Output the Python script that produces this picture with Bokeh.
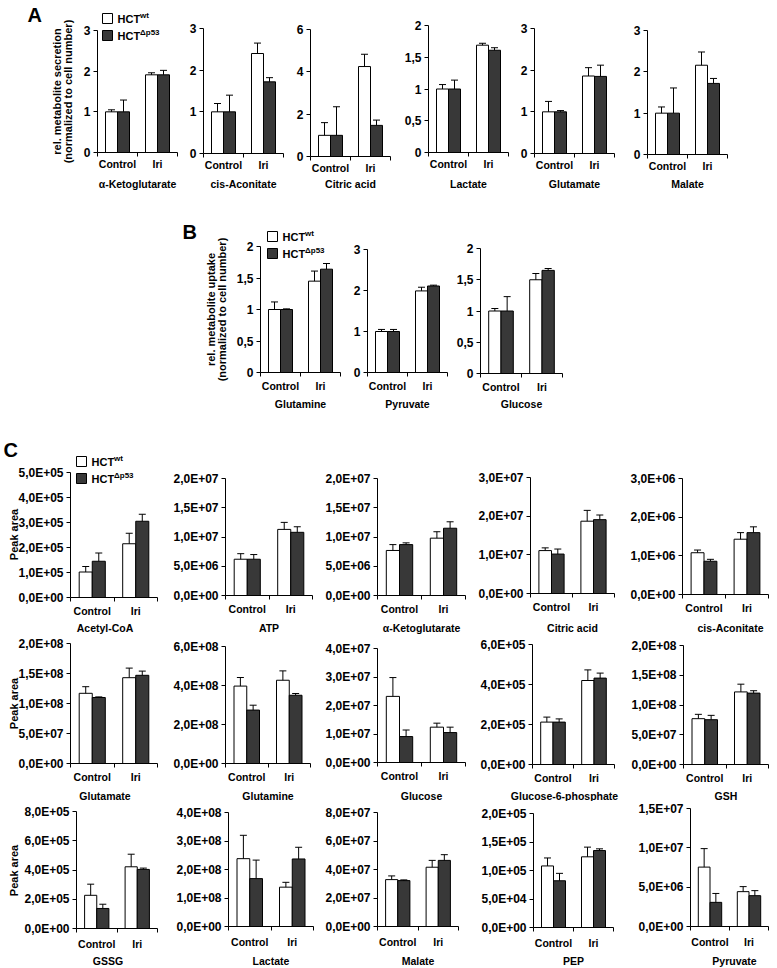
import numpy as np
from bokeh.plotting import figure
from bokeh.models import Range1d, FixedTicker, Whisker, TeeHead, ColumnDataSource, Label
from bokeh.layouts import row, column
from bokeh.embed import file_html
from bokeh.resources import INLINE

# ---------------- data ----------------
categories = ["Control", "Iri"]
series = ["wt", "Δp53"]

# Panel A: relative metabolite secretion
a_names = ["α-Ketoglutarate", "cis-Aconitate", "Citric acid", "Lactate", "Glutamate", "Malate"]
a_wt = [[1.00, 1.91], [1.00, 2.40], [1.00, 4.25], [1.00, 1.69], [1.00, 1.86], [1.00, 2.16]]
a_wt_err = [[0.05, 0.05], [0.20, 0.25], [0.60, 0.58], [0.07, 0.03], [0.25, 0.20], [0.15, 0.32]]
a_dl = [[1.00, 1.91], [1.00, 1.72], [1.00, 1.47], [1.00, 1.61], [1.00, 1.85], [1.00, 1.72]]
a_dl_err = [[0.29, 0.11], [0.40, 0.10], [1.35, 0.25], [0.14, 0.04], [0.03, 0.27], [0.61, 0.12]]
a_ticks = [[0, 1, 2, 3], [0, 1, 2, 3], [0, 2, 4, 6], [0, 0.5, 1, 1.5, 2], [0, 1, 2, 3], [0, 1, 2, 3]]
a_tick_labels = [["0", "1", "2", "3"], ["0", "1", "2", "3"], ["0", "2", "4", "6"],
                 ["0", "0,5", "1", "1,5", "2"], ["0", "1", "2", "3"], ["0", "1", "2", "3"]]
a_ylabel = ["rel. metabolite secretion", "(normalized to cell number)"]

# Panel B: relative metabolite uptake
b_names = ["Glutamine", "Pyruvate", "Glucose"]
b_wt = [[1.00, 1.45], [1.00, 1.99], [1.00, 1.50]]
b_wt_err = [[0.12, 0.16], [0.05, 0.09], [0.04, 0.10]]
b_dl = [[1.00, 1.64], [1.00, 2.11], [1.00, 1.65]]
b_dl_err = [[0.01, 0.09], [0.05, 0.02], [0.23, 0.03]]
b_ticks = [[0, 0.5, 1, 1.5, 2], [0, 1, 2, 3], [0, 0.5, 1, 1.5, 2]]
b_tick_labels = [["0", "0,5", "1", "1,5", "2"], ["0", "1", "2", "3"], ["0", "0,5", "1", "1,5", "2"]]
b_ylabel = ["rel. metabolite uptake", "(normalized to cell number)"]

# Panel C: peak areas
c_names = ["Acetyl-CoA", "ATP", "α-Ketoglutarate", "Citric acid", "cis-Aconitate",
           "Glutamate", "Glutamine", "Glucose", "Glucose-6-phosphate", "GSH",
           "GSSG", "Lactate", "Malate", "PEP", "Pyruvate"]
c_wt = [[1.02e5, 2.15e5], [6.2e6, 11.3e6], [7.7e6, 9.8e6], [1.11e7, 1.87e7], [1.08e6, 1.43e6],
        [1.17e8, 1.43e8], [3.97e8, 4.27e8], [2.32e7, 1.24e7], [2.12e5, 4.20e5], [7.7e7, 1.22e8],
        [2.27e5, 4.22e5], [2.38e8, 1.38e8], [3.29e7, 4.16e7], [1.08e5, 1.24e5], [7.55e6, 4.43e6]]
c_wt_err = [[0.22e5, 0.42e5], [0.95e6, 1.2e6], [1.0e6, 1.1e6], [0.07e7, 0.28e7], [0.07e6, 0.17e6],
            [0.11e8, 0.16e8], [0.44e8, 0.48e8], [0.66e7, 0.14e7], [0.25e5, 0.53e5], [0.73e7, 1.3e7],
            [0.76e5, 0.86e5], [0.82e8, 0.17e8], [0.26e7, 0.48e7], [0.14e5, 0.17e5], [2.35e6, 0.64e6]]
c_dl = [[1.45e5, 3.05e5], [6.2e6, 10.8e6], [8.7e6, 11.5e6], [1.02e7, 1.91e7], [0.86e6, 1.60e6],
        [1.10e8, 1.47e8], [2.74e8, 3.50e8], [0.91e7, 1.05e7], [2.12e5, 4.32e5], [7.53e7, 1.20e8],
        [1.37e5, 4.04e5], [1.68e8, 2.37e8], [3.22e7, 4.64e7], [0.82e5, 1.35e5], [3.07e6, 3.92e6]]
c_dl_err = [[0.33e5, 0.28e5], [0.8e6, 0.95e6], [0.3e6, 1.1e6], [0.13e7, 0.12e7], [0.05e6, 0.15e6],
            [0.01e8, 0.07e8], [0.25e8, 0.09e8], [0.23e7, 0.19e7], [0.16e5, 0.25e5], [0.73e7, 0.4e7],
            [0.29e5, 0.09e5], [0.65e8, 0.41e8], [0.05e7, 0.40e7], [0.13e5, 0.03e5], [1.13e6, 0.64e6]]
c_ticks = [[0, 1e5, 2e5, 3e5, 4e5, 5e5], [0, 5e6, 1e7, 1.5e7, 2e7], [0, 5e6, 1e7, 1.5e7, 2e7],
           [0, 1e7, 2e7, 3e7], [0, 1e6, 2e6, 3e6],
           [0, 5e7, 1e8, 1.5e8, 2e8], [0, 2e8, 4e8, 6e8], [0, 1e7, 2e7, 3e7, 4e7],
           [0, 2e5, 4e5, 6e5], [0, 5e7, 1e8, 1.5e8, 2e8],
           [0, 2e5, 4e5, 6e5, 8e5], [0, 1e8, 2e8, 3e8, 4e8], [0, 2e7, 4e7, 6e7, 8e7],
           [0, 5e4, 1e5, 1.5e5, 2e5], [0, 5e6, 1e7, 1.5e7]]
c_tick_labels = [["0,0E+00", "1,0E+05", "2,0E+05", "3,0E+05", "4,0E+05", "5,0E+05"],
                 ["0,0E+00", "5,0E+06", "1,0E+07", "1,5E+07", "2,0E+07"],
                 ["0,0E+00", "5,0E+06", "1,0E+07", "1,5E+07", "2,0E+07"],
                 ["0,0E+00", "1,0E+07", "2,0E+07", "3,0E+07"],
                 ["0,0E+00", "1,0E+06", "2,0E+06", "3,0E+06"],
                 ["0,0E+00", "5,0E+07", "1,0E+08", "1,5E+08", "2,0E+08"],
                 ["0,0E+00", "2,0E+08", "4,0E+08", "6,0E+08"],
                 ["0,0E+00", "1,0E+07", "2,0E+07", "3,0E+07", "4,0E+07"],
                 ["0,0E+00", "2,0E+05", "4,0E+05", "6,0E+05"],
                 ["0,0E+00", "5,0E+07", "1,0E+08", "1,5E+08", "2,0E+08"],
                 ["0,0E+00", "2,0E+05", "4,0E+05", "6,0E+05", "8,0E+05"],
                 ["0,0E+00", "1,0E+08", "2,0E+08", "3,0E+08", "4,0E+08"],
                 ["0,0E+00", "2,0E+07", "4,0E+07", "6,0E+07", "8,0E+07"],
                 ["0,0E+00", "5,0E+04", "1,0E+05", "1,5E+05", "2,0E+05"],
                 ["0,0E+00", "5,0E+06", "1,0E+07", "1,5E+07"]]
c_ylabel = ["Peak area"]

# ---------------- style / layout ----------------
FONT = "Liberation Sans"
WT_FILL = "white"
DL_FILL = "#383838"
BAR_W = 0.3
TOTAL_W = 777


def Y(r):
    return int(round(r))


def X(r):
    return int(round(r))


def txt(**kw):
    base = dict(text_font=FONT, text_font_style="bold", text_color="black")
    base.update(kw)
    return Label(**base)


class Chart:
    def __init__(self, geo, fig_left, row_top, ymax, ticks, tick_labels, wt, wt_err, dl, dl_err,
                 name, name_ref_y, name_dx=0, xlab_standoff=3):
        fw, rh, lb, tb, frame_w, frame_h = geo
        self.fig_left, self.row_top = fig_left, row_top
        ncat = len(categories)
        self.lb, self.zero_px, self.frame_w, self.frame_h = lb, tb + frame_h, frame_w, frame_h
        self.ymax, self.ncat = ymax, ncat
        p = figure(width=fw, height=rh, x_range=Range1d(self.dx(0), self.dx(fw)),
                   y_range=Range1d(self.dy(rh), self.dy(0)),
                   min_border=0, min_border_left=0, min_border_right=0, min_border_top=0,
                   min_border_bottom=0, toolbar_location=None, output_backend="svg", title=None)
        p.xgrid.visible = False
        p.ygrid.visible = False
        p.outline_line_color = None
        p.background_fill_color = "white"
        p.border_fill_color = "white"
        xs = np.arange(ncat) + 0.5
        for vals, errs, off, fill in ((wt, wt_err, -BAR_W / 2, WT_FILL), (dl, dl_err, BAR_W / 2, DL_FILL)):
            vals = np.asarray(vals, float)
            errs = np.asarray(errs, float)
            src = ColumnDataSource(dict(x=xs + off, top=vals, upper=vals + errs))
            p.vbar(x="x", top="top", bottom=0, width=BAR_W, source=src, fill_color=fill,
                   line_color="black", line_width=1)
            p.add_layout(Whisker(source=src, base="x", lower="top", upper="upper",
                                 line_color="black", line_width=1, level="overlay",
                                 upper_head=TeeHead(size=7, line_color="black", line_width=1),
                                 lower_head=None))
        xa = p.xaxis[0]
        xa.fixed_location = 0
        xa.bounds = (0, ncat)
        xa.ticker = FixedTicker(ticks=list(xs), minor_ticks=list(range(ncat + 1)))
        xa.major_label_overrides = {float(x): c for x, c in zip(xs, categories)}
        xa.major_tick_line_color = None
        xa.major_tick_out = 0
        xa.major_tick_in = 0
        xa.minor_tick_out = 4
        xa.minor_tick_in = 0
        xa.minor_tick_line_color = "black"
        xa.axis_line_color = "black"
        xa.major_label_standoff = xlab_standoff
        xa.major_label_text_font = FONT
        xa.major_label_text_font_size = "10.5px"
        xa.major_label_text_font_style = "bold"
        xa.major_label_text_color = "black"

        ya = p.yaxis[0]
        ya.fixed_location = 0
        ya.bounds = (0, ymax)
        ya.ticker = FixedTicker(ticks=list(ticks))
        ya.major_label_overrides = {float(t): l for t, l in zip(ticks, tick_labels)}
        ya.major_tick_out = 4
        ya.major_tick_in = 0
        ya.minor_tick_line_color = None
        ya.axis_line_color = "black"
        ya.major_tick_line_color = "black"
        ya.major_label_standoff = 3
        ya.major_label_text_font = FONT
        ya.major_label_text_font_size = "12px"
        ya.major_label_text_font_style = "bold"
        ya.major_label_text_color = "black"

        # chart name under the axis
        p.add_layout(txt(x=self.dx(lb + frame_w / 2 + name_dx), y=self.dy(self.cy(name_ref_y)),
                         text=name, text_align="center", text_baseline="middle",
                         text_font_size="10.5px"))
        self.p = p

    # pixel (canvas) -> data
    def dx(self, px):
        return (px - self.lb) / self.frame_w * self.ncat

    def dy(self, py):
        return (self.zero_px - py) / self.frame_h * self.ymax

    # reference page coords -> canvas pixels
    def cx(self, ref_x):
        return X(ref_x) - self.fig_left

    def cy(self, ref_y):
        return Y(ref_y) - Y(self.row_top)

    def ytitle(self, lines, line_ref_x, center_ref_y):
        for line, rx in zip(lines, line_ref_x):
            self.p.add_layout(txt(x=self.dx(self.cx(rx)), y=self.dy(self.cy(center_ref_y)),
                                  text=line, angle=90, angle_units="deg", text_align="center",
                                  text_baseline="middle", text_font_size="11px"))

    def letter(self, text, ref_x, ref_y):
        self.p.add_layout(txt(x=self.dx(max(self.cx(ref_x), 1)), y=self.dy(self.cy(ref_y)), text=text,
                              text_align="left", text_baseline="top", text_font_size="20px"))

    def legend(self, sq_left_ref, sq_tops_ref, size=10):
        for i, (s, fill) in enumerate(zip(series, (WT_FILL, DL_FILL))):
            cxp = self.cx(sq_left_ref) + size / 2
            cyp = self.cy(sq_tops_ref[i]) + size / 2
            self.p.scatter(x=[self.dx(cxp)], y=[self.dy(cyp)], marker="square", size=size,
                           fill_color=fill, line_color="black", line_width=1)
            tx = cxp + size / 2 + 5
            self.p.add_layout(txt(x=self.dx(tx), y=self.dy(cyp + 0.5), text="HCT", text_align="left",
                                  text_baseline="middle", text_font_size="11px"))
            self.p.add_layout(txt(x=self.dx(tx + 22.5), y=self.dy(cyp - 3), text=s, text_align="left",
                                  text_baseline="middle", text_font_size="8px"))


def row_geometry(row_top, row_bot, axes_ref, frame_ws, tops_ref, zeros_ref, need_left, right_pad):
    rh = Y(row_bot) - Y(row_top)
    n = len(axes_ref)
    ax = [X(a) for a in axes_ref]
    ends = [ax[i] + frame_ws[i] for i in range(n)]
    bounds = [0]
    for i in range(n - 1):
        bounds.append(min(ends[i] + right_pad, ax[i + 1] - need_left))
    bounds.append(min(ends[-1] + right_pad, TOTAL_W))
    geos = []
    for i in range(n):
        fw = bounds[i + 1] - bounds[i]
        lb = ax[i] - bounds[i]
        tb = Y(tops_ref[i]) - Y(row_top)
        fh = Y(zeros_ref[i]) - Y(tops_ref[i])
        geos.append((fw, rh, lb, tb, frame_ws[i], fh))
    return geos, bounds


# ---------- Panel A ----------
A_TOP, A_BOT = 0, 196
a_geo, a_bounds = row_geometry(A_TOP, A_BOT, [97, 203, 310, 428, 534, 647], [80] * 6,
                               [30, 28, 29, 25, 28, 30], [152, 153, 156, 152, 153, 154], 24, 2)
a_figs = []
for i in range(6):
    ch = Chart(a_geo[i], a_bounds[i], A_TOP, a_ticks[i][-1], a_ticks[i], a_tick_labels[i],
               a_wt[i], a_wt_err[i], a_dl[i], a_dl_err[i], a_names[i], 183, 0, 1)
    if i == 0:
        ch.letter("A", 27, 3)
        ch.ytitle(a_ylabel, [56, 67], 91)
        ch.legend(102, [13, 30])
    a_figs.append(ch.p)

# ---------- Panel B ----------
B_TOP, B_BOT = 196, 413
b_geo, b_bounds = row_geometry(B_TOP, B_BOT, [260, 367, 480], [80, 80, 82],
                               [246, 249, 248], [372, 372, 373], 24, 4)
b_figs = []
for i in range(3):
    ch = Chart(b_geo[i], b_bounds[i], B_TOP, b_ticks[i][-1], b_ticks[i], b_tick_labels[i],
               b_wt[i], b_wt_err[i], b_dl[i], b_dl_err[i], b_names[i], 403, 0, 3)
    if i == 0:
        ch.letter("B", 182, 220)
        ch.ytitle(b_ylabel, [210, 221], 309)
        ch.legend(267, [231, 248])
    b_figs.append(ch.p)

# ---------- Panel C ----------
c_rows = [
    (413, 634, [70, 225, 377, 530, 682], [87, 87, 88, 84, 86],
     [472, 478, 478, 477, 478], [597, 595, 595, 593, 594], 627, 3),
    (634, 801, [70, 225, 377, 532, 683], [87, 85, 88, 82, 85],
     [643, 646, 648, 644, 645], [763, 763, 762, 764, 764], 795, 3),
    (801, 967, [76, 228, 377, 533, 690], [81, 85, 81, 80, 78],
     [811, 812, 812, 813, 808], [928, 926, 926, 927, 926], 960, 5),
]
c_name_dx = [-9, 0, 0, 0, 5, -9, 0, 0, -9, 0, -9, 0, 0, 0, 5]
c_row_layouts = []
k = 0
for ri, (rt, rb, axes, fws, tops, zeros, name_y, xls) in enumerate(c_rows):
    geo, bounds = row_geometry(rt, rb, axes, fws, tops, zeros, 54, 8)
    figs = []
    for i in range(5):
        ch = Chart(geo[i], bounds[i], rt, c_ticks[k][-1], c_ticks[k], c_tick_labels[k],
                   c_wt[k], c_wt_err[k], c_dl[k], c_dl_err[k], c_names[k], name_y, c_name_dx[k], xls)
        if i == 0:
            ch.ytitle(c_ylabel, [13], (tops[0] + zeros[0]) / 2)
            if ri == 0:
                ch.letter("C", 3, 438)
                ch.legend(76, [456, 473])
        figs.append(ch.p)
        k += 1
    c_row_layouts.append(row(*figs))

layout = column(row(*a_figs), row(*b_figs), *c_row_layouts)

open("out.html", "w").write(file_html(layout, INLINE))
